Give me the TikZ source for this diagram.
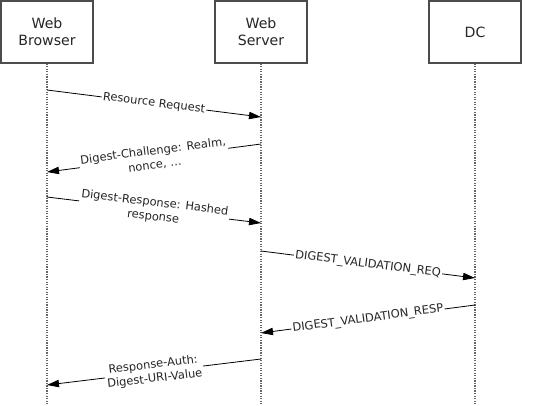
\documentclass[tikz,border=0pt]{standalone}
\usepackage{fontspec}
\setmainfont{DejaVu Sans}
\usetikzlibrary{arrows.meta}
\usetikzlibrary{positioning}

\tikzset{
  actor/.style={draw=black!70, line width=1pt, fill=white, minimum width=69pt,
    minimum height=46.5pt, align=center, font=\fontsize{10.6}{12.6}\selectfont, text=black!85},
  life/.style={densely dotted, black!60, line width=0.9pt},
  msg/.style={-{Triangle[length=9pt,width=5.5pt]}, line width=0.6pt},
  msglabel/.style={midway, sloped, fill=white, inner sep=1pt, align=center,
    font=\fontsize{8.6}{10.6}\selectfont, text=black!85}
}

\begin{document}
\begin{tikzpicture}[x=0.75pt, y=-0.75pt]
      \useasboundingbox (0,0) rectangle (533,405);
      \node[actor] (wb) at (47,32){Web\\Browser};
      \node[actor] (ws) at (261,32){Web\\Server};
      \node[actor] (dc) at (475,32){DC};
      \coordinate (wbend) at (47,405);
      \coordinate (wsend) at (261,405);
      \coordinate (dcend) at (475,405);
      \draw[life](wb) -- (wbend);
      \draw[life](ws) -- (wsend);
      \draw[life](dc) -- (dcend);
      % message ends on the lifelines
      \coordinate (wb1) at (47,90);
      \coordinate (ws1) at (261,117);
      \coordinate (ws2) at (261,144);
      \coordinate (wb2) at (47,172);
      \coordinate (wb3) at (47,197);
      \coordinate (ws3) at (261,223);
      \coordinate (ws4) at (261,251);
      \coordinate (dc4) at (475,278);
      \coordinate (dc5) at (475,305);
      \coordinate (ws5) at (261,333);
      \coordinate (ws6) at (261,359);
      \coordinate (wb6) at (47,385);
      \draw[msg](wb1) -- node[msglabel]{Resource Request} (ws1);
      \draw[msg](ws2) -- node[msglabel]{Digest-Challenge: Realm,\\nonce, \dots} (wb2);
      \draw[msg](wb3) -- node[msglabel]{Digest-Response: Hashed\\response} (ws3);
      \draw[msg](ws4) -- node[msglabel]{DIGEST\_VALIDATION\_REQ} (dc4);
      \draw[msg](dc5) -- node[msglabel]{DIGEST\_VALIDATION\_RESP} (ws5);
      \draw[msg](ws6) -- node[msglabel]{Response-Auth:\\Digest-URI-Value} (wb6);
    \end{tikzpicture}
\end{document}
